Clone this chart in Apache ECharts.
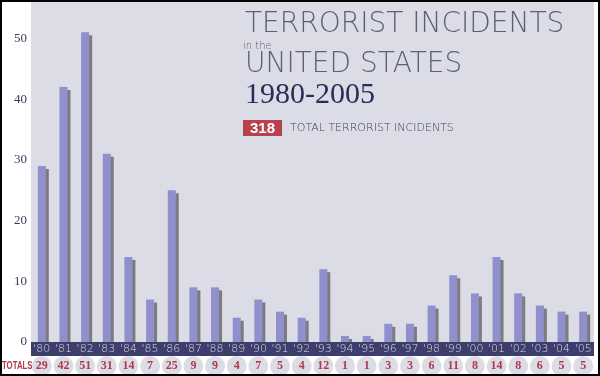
<!DOCTYPE html>
<html lang="en">
<head>
    <meta charset="utf-8" />
    <title>Terrorist Incidents in the United States 1980-2005</title>
    <style>
        html, body { margin: 0; padding: 0; background: #fff; }
        #main { width: 600px; height: 376px; }
    </style>
</head>
<body>
<div id="main"></div>
<script src="https://cdn.jsdelivr.net/npm/echarts@6/dist/echarts.min.js"></script>
<script type="text/javascript">
    // 年份标签（X轴）
    var years = ["'80", "'81", "'82", "'83", "'84", "'85", "'86", "'87", "'88", "'89",
        "'90", "'91", "'92", "'93", "'94", "'95", "'96", "'97", "'98", "'99",
        "'00", "'01", "'02", "'03", "'04", "'05"];
    // 每年事件数量
    var incidents = [29, 42, 51, 31, 14, 7, 25, 9, 9, 4,
        7, 5, 4, 12, 1, 1, 3, 3, 6, 11,
        8, 14, 8, 6, 5, 5];
    // Y轴刻度
    var yTicks = [0, 10, 20, 30, 40, 50];
    var totalText = '318';

    var myChart = echarts.init(document.getElementById('main'));

    var titleFont = {fontFamily: 'DejaVu Sans', fontSize: 28, fontWeight: 200, color: '#5e5e78'};

    var option = {
        backgroundColor: '#ffffff',
        animation: false,
        title: [
            {
                text: 'TERRORIST INCIDENTS',
                left: 240, top: 6,
                textStyle: titleFont
            },
            {
                text: 'in the',
                left: 243, top: 41,
                padding: 0,
                textStyle: {fontFamily: 'DejaVu Sans', fontSize: 10, fontWeight: 200, color: '#5e5e78'}
            },
            {
                text: 'UNITED STATES',
                left: 240, top: 46,
                textStyle: titleFont
            },
            {
                text: '1980-2005',
                left: 240, top: 75,
                textStyle: {fontFamily: 'Liberation Serif', fontSize: 30, fontWeight: 'normal', color: '#2c2c5c'}
            },
            {
                text: totalText,
                left: 243, top: 120,
                padding: [1, 7, 0, 7],
                backgroundColor: '#b8404f',
                textStyle: {fontFamily: 'Liberation Sans', fontSize: 15, fontWeight: 'bold', color: '#ffffff'}
            },
            {
                text: 'TOTAL TERRORIST INCIDENTS',
                left: 290, top: 123,
                padding: 0,
                textStyle: {fontFamily: 'DejaVu Sans', fontSize: 11, fontWeight: 200, color: '#3e3e60'}
            }
        ],
        grid: {
            left: 31, right: 6, top: 2, bottom: 34,
            show: true,
            backgroundColor: '#dcdce6',
            borderWidth: 0
        },
        xAxis: [
            {
                type: 'category',
                data: years,
                z: 10,
                offset: 7,
                axisLine: {onZero: false, lineStyle: {color: '#3e3e6c', width: 14, cap: 'butt'}},
                axisTick: {show: false},
                axisLabel: {
                    interval: 0, margin: 0, verticalAlign: 'middle',
                    fontFamily: 'DejaVu Sans', fontWeight: 200, fontSize: 11, color: '#d8d8ea'
                }
            },
            {
                type: 'category',
                data: years,
                position: 'bottom',
                axisLine: {show: false},
                axisTick: {show: false},
                axisLabel: {
                    interval: 0, margin: 24, verticalAlign: 'middle',
                    formatter: function (value, idx) {
                        return String(incidents[idx]);
                    },
                    width: 20, height: 20, lineHeight: 20,
                    borderRadius: 10,
                    backgroundColor: '#dcdce6',
                    align: 'center',
                    fontFamily: 'Liberation Serif', fontSize: 12, fontWeight: 'bold', color: '#b03a4a'
                }
            }
        ],
        yAxis: {
            type: 'value',
            min: 0, max: 56, interval: 10,
            splitLine: {show: false},
            axisLine: {show: false},
            axisTick: {show: false},
            axisLabel: {
                margin: 4,
                fontFamily: 'Liberation Serif', fontSize: 13, color: '#3a3a5e',
                formatter: function (v) {
                    return yTicks.indexOf(v) >= 0 ? String(v) : '';
                }
            }
        },
        series: [
            {
                name: 'Incidents',
                type: 'bar',
                data: incidents,
                barWidth: 8,
                itemStyle: {
                    color: '#9090cc',
                    shadowColor: '#7c7c80',
                    shadowBlur: 0,
                    shadowOffsetX: 3,
                    shadowOffsetY: 3
                }
            }
        ],
        graphic: [
            {
                type: 'text',
                left: 2, top: 361,
                scaleX: 0.78,
                style: {
                    text: 'TOTALS',
                    font: 'bold 10px "Liberation Sans"',
                    fill: '#b03a4a'
                }
            },
            {
                type: 'rect',
                z: 100,
                silent: true,
                shape: {x: 1, y: 1, width: 598, height: 374},
                style: {fill: 'none', stroke: '#000000', lineWidth: 2}
            }
        ]
    };

    myChart.setOption(option);
</script>
</body>
</html>
